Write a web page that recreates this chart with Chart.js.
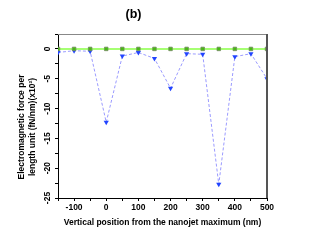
<!DOCTYPE html>
<html>
<head>
<meta charset="utf-8">
<script src="https://cdn.jsdelivr.net/npm/chart.js@4.4.1/dist/chart.umd.min.js"></script>
<style>
  html, body { margin: 0; padding: 0; background: #fff; }
  #wrap { width: 327px; height: 245px; }
</style>
</head>
<body>
<div id="wrap"><canvas id="chart" width="327" height="245"></canvas></div>
<script>
// positions (nm) from the nanojet maximum
const positions = [-150, -100, -50, 0, 50, 100, 150, 200, 250, 300, 350, 400, 450, 500];
// force per length unit, (fN/nm) x10^2
const forceBlue = [-0.6, -0.3, -0.4, -12.3, -1.2, -0.6, -1.6, -6.6, -0.8, -0.9, -22.7, -1.3, -0.8, -5.0];
const forceGreen = [0, 0, 0, 0, 0, 0, 0, 0, 0, 0, 0, 0, 0, 0];
const yTickLabels = [0, -5, -10, -15, -20, -25];
const yTitle = ["Electromagnetic force per", "length unit (fN/nm)(x10\u00b2)"];

const FONT = "'Liberation Sans', Arial, sans-serif";

const pts = (ys) => positions.map((x, i) => ({ x: x, y: ys[i] }));

// frame, rotated y labels and y title
const extras = {
    id: "extras",
    afterDraw(chart) {
        const c = chart.ctx;
        const a = chart.chartArea;
        const y = chart.scales.y;
        c.save();
        c.strokeStyle = "#888";
        c.lineWidth = 1;
        c.beginPath();
        c.moveTo(a.left, a.top + 0.5);
        c.lineTo(a.right, a.top + 0.5);
        c.stroke();
        c.strokeStyle = "#555";
        c.lineWidth = 2;
        c.beginPath();
        c.moveTo(a.right, a.top);
        c.lineTo(a.right, a.bottom);
        c.stroke();

        c.fillStyle = "#000";
        c.font = "bold 8.5px " + FONT;
        c.textAlign = "center";
        c.textBaseline = "middle";
        yTickLabels.forEach(v => {
            c.save();
            c.translate(48, y.getPixelForValue(v));
            c.rotate(-Math.PI / 2);
            c.fillText(String(v), 0, 0);
            c.restore();
        });

        c.font = "bold 8.5px " + FONT;
        yTitle.forEach((line, i) => {
            c.save();
            c.translate(22 + i * 11, 127);
            c.rotate(-Math.PI / 2);
            c.fillText(line, 0, 0);
            c.restore();
        });
        c.restore();
    }
};

new Chart(document.getElementById("chart"), {
    type: "line",
    data: {
        datasets: [
            {
                data: pts(forceGreen),
                borderColor: "#88ff44",
                borderWidth: 1.5,
                pointStyle: "rect",
                pointRadius: 2.5,
                pointBackgroundColor: "#44bb11",
                pointBorderColor: "#778866",
                pointBorderWidth: 0.8,
                order: 0
            },
            {
                data: pts(forceBlue),
                borderColor: "#9a9aff",
                borderWidth: 1,
                borderDash: [3, 2],
                pointStyle: "triangle",
                rotation: 180,
                pointRadius: 3,
                pointBackgroundColor: "#2244ff",
                pointBorderColor: "#2244ff",
                pointBorderWidth: 0,
                order: 1
            }
        ]
    },
    options: {
        responsive: false,
        animation: false,
        layout: { padding: { left: 0, right: 60, top: 0, bottom: 0 } },
        plugins: {
            legend: { display: false },
            tooltip: { enabled: false },
            title: {
                display: true,
                text: "(b)",
                color: "#000",
                font: { family: FONT, size: 12.5, weight: "bold" },
                padding: { top: 7, bottom: 12 }
            }
        },
        scales: {
            x: {
                type: "linear",
                min: -150,
                max: 500,
                afterFit: s => { s.height = 47; },
                grid: { drawOnChartArea: false, drawTicks: true, tickLength: 3, color: "#000" },
                border: { color: "#000", width: 1 },
                ticks: {
                    stepSize: 50,
                    autoSkip: false,
                    maxRotation: 0,
                    padding: 2,
                    color: "#000",
                    font: { family: FONT, size: 8.5, weight: "bold" },
                    callback: v => (v % 100 === 0 ? String(v) : "")
                },
                title: {
                    display: true,
                    text: "Vertical position from the nanojet maximum (nm)",
                    color: "#000",
                    font: { family: FONT, size: 8.5, weight: "bold" },
                    padding: { top: 0, bottom: 17 }
                }
            },
            y: {
                min: -25,
                max: 2.5,
                afterFit: s => { s.width = 58; },
                grid: { drawOnChartArea: false, drawTicks: true, tickLength: 3, color: "#000" },
                border: { color: "#000", width: 1 },
                ticks: { stepSize: 2.5, display: false }
            }
        }
    },
    plugins: [extras]
});
</script>
</body>
</html>
